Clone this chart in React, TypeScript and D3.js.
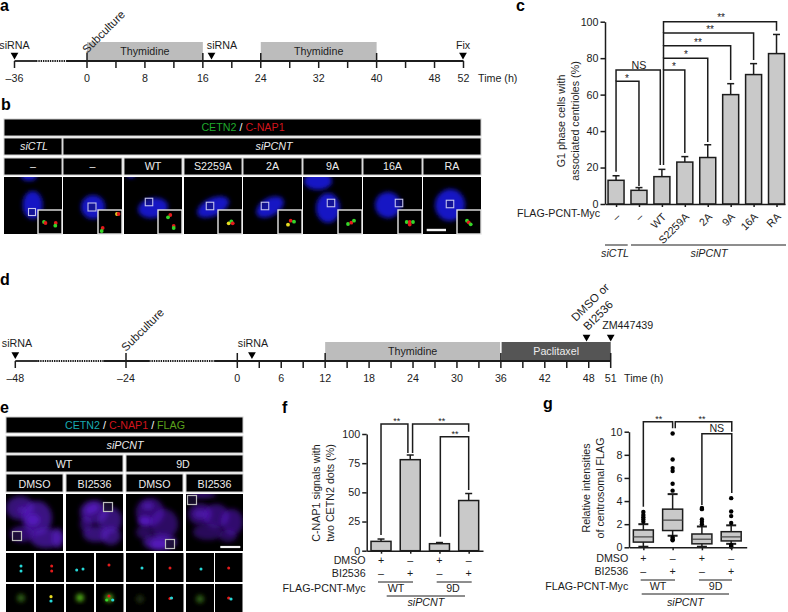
import { useEffect, useRef } from 'react';
import * as d3 from 'd3';

const FONT = '"Liberation Sans", Arial, sans-serif';
const FS = 10.7;
const INK = '#1c1c1c';
const GREY_BAR = '#c9c9c9';

// panel a timeline (hours)
const aTicks = [-36, 0, 4, 8, 12, 16, 20, 24, 28, 32, 36, 40, 44, 48, 52];
const aMajor = [0, 16, 24, 40];
const aLabels = [-36, 0, 8, 16, 24, 32, 40, 48, 52];
const aDotted = [[-25.3, -10.4]];
const aPeriods = [
  { name: 'Thymidine', from: 0, to: 16 },
  { name: 'Thymidine', from: 24, to: 40 },
];

// panel d timeline (hours)
const dTicks = [-48, -24, 0, 3, 6, 9, 12, 15, 18, 21, 24, 27, 30, 33, 36, 39, 42, 45, 48, 51];
const dMajor = [-24, 0, 12, 36, 51];
const dLabels = [-48, -24, 0, 6, 12, 18, 24, 30, 36, 42, 48, 51];
const dDotted = [[-43.1, -28.9], [-19, -5]];
const dPeriods = [
  { name: 'Thymidine', from: 12, to: 35.9 },
  { name: 'Paclitaxel', from: 36.1, to: 51 },
];

// panel c
const cCategories = ['–', '–', 'WT', 'S2259A', '2A', '9A', '16A', 'RA'];
const cValues = [13, 7.5, 15, 23, 25.5, 60, 71, 82.5];
const cErrTop = [15.5, 9, 19, 26, 32.5, 66, 77, 93];
const cTicks = [0, 20, 40, 60, 80, 100];
const cBrackets = [
  { x1: 0, x2: 1, level: 67.3, end1: 17.7, end2: 9.9, label: '*', labelX: 0.48, dy: 1 },
  { x1: 0, x2: 1.93, level: 73.5, end1: 67.3, end2: 21.4, label: 'NS', labelX: 1, dy: -1 },
  { x1: 2.07, x2: 3, level: 73.5, end1: 21.4, end2: 28, label: '*', labelX: 2.53, dy: 0 },
  { x1: 2.07, x2: 4, level: 80, end1: 73.5, end2: 34, label: '*', labelX: 3.05, dy: 0 },
  { x1: 2.07, x2: 5, level: 86.8, end1: 80, end2: 68, label: '**', labelX: 3.57, dy: 0 },
  { x1: 2.07, x2: 6, level: 93.8, end1: 86.8, end2: 79, label: '**', labelX: 4.1, dy: 0 },
  { x1: 2.07, x2: 7, level: 100, end1: 93.8, end2: 95, label: '**', labelX: 4.58, dy: -1 },
];

// panel f
const fValues = [8, 78, 6, 43];
const fErrTop = [10, 82, 7, 49];
const fTicks = [0, 25, 50, 75, 100];
const fBrackets = [
  { x1: 0, x2: 0.92, level: 108.6, end1: 13.5, end2: 83.7, label: '**', labelX: 0.54, dy: 0 },
  { x1: 1.08, x2: 3, level: 108.6, end1: 83.7, end2: 102, label: '**', labelX: 2.08, dy: 0 },
  { x1: 2.03, x2: 3, level: 97.7, end1: 12, end2: 52, label: '**', labelX: 2.53, dy: 0 },
];

// panel g
const gQ1 = [0.45, 1.45, 0.3, 0.55];
const gMedian = [0.9, 2.35, 0.7, 0.9];
const gQ3 = [1.5, 3.3, 1.15, 1.35];
const gWhiskerLow = [0.05, 1.0, 0.05, 0.3];
const gWhiskerHigh = [2.0, 4.6, 1.8, 1.9];
const gOutliers = [
  [2.2, 2.4, 2.6, 2.8, 3.05],
  [0.6, 0.7, 0.85, 4.9, 5.5, 6.6, 6.85, 7.6, 9.85],
  [2.0, 2.2, 2.4, 3.3, 3.4],
  [0.05, 0.12, 0.2, 2.1, 2.7, 3.1, 4.25],
];
const gTicks = [0, 2, 4, 6, 8, 10];
const gBrackets = [
  { x1: 0, x2: 1, level: 10.86, end1: 3.5, end2: 10.3, label: '**', labelX: 0.53, dy: 0 },
  { x1: 1.09, x2: 3.02, level: 10.86, end1: 10.3, end2: 10, label: '**', labelX: 2, dy: 0 },
  { x1: 2, x2: 3.02, level: 9.83, end1: 3.65, end2: 4.7, label: 'NS', labelX: 2.51, dy: -2 },
];

const dmsoSigns = ['+', '–', '+', '–'];
const biSigns = ['–', '+', '–', '+'];

// micrographs, sketched in each cell's own pixels
const bHeaders = ['–', '–', 'WT', 'S2259A', '2A', '9A', '16A', 'RA'];
const bColumns = [[4, 62], [63, 122], [124, 182], [184, 242], [243, 302], [303, 362], [363, 422], [423, 481]];
const bNuclei = [
  [[28.7, 28, 10, 14, 0], [25, -1, 8, 5, 0]],
  [[30, 30, 12, 12, 0]],
  [[29, 31, 15, 10, -10], [7, -3, 4, 4, 0]],
  [[29, 30, 17, 9, -25]],
  [[27, 30, 15, 9, -30]],
  [[25, 31, 12, 15, 0], [15, 4, 14, 9, 0]],
  [[25, 28, 13, 13, 20]],
  [[27, 28, 15, 16, 10]],
];
const bBoxes = [[28, 35, 7], [29, 30, 8], [25, 25, 7.5], [26, 29, 7.5], [22, 29, 7.5], [28, 26, 7.5], [36, 26, 7.5], [27, 27, 7.5]];
const bDots = [
  [[6, 12, 'g'], [7.5, 13, 'r'], [17.7, 13, 'r'], [17.3, 15.7, 'g']],
  [[19, 4, 'y'], [20.5, 4, 'r'], [4.7, 18, 'r'], [3.7, 21, 'g']],
  [[12.3, 5, 'r'], [10, 7.3, 'g'], [15.7, 16, 'r'], [15.7, 18, 'g']],
  [[10.7, 13.3, 'y'], [13.3, 11.3, 'g'], [14.7, 13.3, 'r']],
  [[12.7, 10.7, 'r'], [10, 14.7, 'y'], [16, 11.7, 'g']],
  [[10, 14, 'g'], [13.3, 12.7, 'r'], [16, 10.7, 'g']],
  [[8.7, 12, 'g'], [11.7, 12, 'r'], [15, 12, 'g'], [11.7, 14.5, 'r']],
  [[10, 10.7, 'g'], [11.7, 12.3, 'r'], [13.7, 14.3, 'g']],
];

const eColumns = [[6, 63], [66, 123], [126, 183], [186, 243]];
const eTreatments = ['DMSO', 'BI2536', 'DMSO', 'BI2536'];
const eNuclei = [
  [[14, 14, 14, 12, 0, 0.6], [31, 24, 15, 17, 0, 0.65], [40, 44, 16, 10, 0, 0.65], [16, 40, 12, 8, 0, 0.55], [52, 44, 6, 10, 0, 0.6], [27, 26, 7, 6, 0, 0.8], [16, 16, 5, 4, 0, 0.5]],
  [[28, 18, 14, 12, 0, 0.6], [44, 26, 12, 13, 0, 0.6], [30, 40, 13, 8, 0, 0.6], [45, 42, 10, 9, 0, 0.6], [26, 15, 8, 5, -25, 0.8], [20, 30, 6, 8, 0, 0.5]],
  [[24, 18, 14, 14, 0, 0.55], [38, 30, 14, 15, 0, 0.5], [18, 38, 8, 7, 0, 0.45], [34, 48, 17, 8, 0, 0.65], [19, 27, 7, 5, 0, 0.85], [22, 12, 6, 4, 0, 0.6], [33, 50, 9, 5, 0, 0.8]],
  [[14, 20, 12, 11, 0, 0.5], [30, 22, 13, 12, 0, 0.55], [46, 28, 11, 13, 0, 0.55], [22, 38, 15, 8, 0, 0.45], [42, 42, 9, 6, 0, 0.45], [16, 1, 14, 3, 0, 0.6], [14, 20, 7, 5, 0, 0.6]],
];
const eBoxes = [[11, 42, 9], [42, 13, 9], [44, 50, 9], [6, 6, 9]];
const eTopDots = [
  [[15, 13, 'c'], [15, 18, 'c']],
  [[15.7, 13, 'r'], [15.7, 18, 'r']],
  [[10.7, 17, 'c'], [17, 16, 'c']],
  [[13, 12, 'r']],
  [[16, 15, 'c']],
  [[14, 15, 'r']],
  [[15, 16, 'c']],
  [[13.7, 15, 'r']],
];
const eBottomDots = [
  [[15, 14, 'fd']],
  [[15, 12.7, 'y'], [15, 17, 'c']],
  [[14, 13.7, 'f']],
  [[13, 14, 'f'], [13, 12, 'r'], [10.7, 16, 'g'], [16.7, 16, 'c']],
  [[14, 15, 'fx']],
  [[14, 14.5, 'r'], [15.5, 14, 'c']],
  [[14, 15, 'fd']],
  [[13.7, 14, 'r'], [16, 15, 'c']],
];
const eSmallColumns = [6, 36, 66, 96, 126, 156, 186, 215];

const dotColor: Record<string, string> = {
  g: '#35d62a', r: '#e21a1a', y: '#e8dc24', c: '#28d8d8', f: '#4fa816', fd: '#2f5c12', fx: '#1c2c10',
};

const Label = ({ x, y, children, anchor = 'middle', fill = INK, size = FS, italic = false, rotate = 0 }: any) => (
  <text
    x={x}
    y={y}
    textAnchor={anchor}
    fill={fill}
    fontSize={size}
    fontFamily={FONT}
    fontStyle={italic ? 'italic' : 'normal'}
    transform={rotate ? `rotate(${rotate} ${x} ${y})` : undefined}
  >
    {children}
  </text>
);

const PanelLetter = ({ x, y, children }: any) => (
  <text x={x} y={y} fontSize={16} fontWeight="bold" fontFamily={FONT} fill="#000">{children}</text>
);

const formatHour = (h: number) => (h < 0 ? `–${-h}` : `${h}`);

const Marker = ({ x, y }: any) => (
  <path d={d3.symbol(d3.symbolTriangle, 26)() as string} transform={`translate(${x},${y}) rotate(180)`} fill="#000" />
);

const Timeline = ({ x, y, ticks, major, labels, dotted, periods, periodTop, periodFill, periodText }: any) => {
  const [start, end] = d3.extent(x.domain()) as number[];
  // solid stretches are what is left between the dotted ones
  const stops = [start, ...dotted.flat(), end];
  const solid = d3.range(0, stops.length, 2).map(i => [stops[i], stops[i + 1]]);
  return (
    <g>
      {periods.map((p: any, i: number) => (
        <g key={i}>
          <rect x={x(p.from)} y={periodTop} width={x(p.to) - x(p.from)} height={y - periodTop} fill={periodFill[i]} />
          <Label x={(x(p.from) + x(p.to)) / 2} y={y - 6} fill={periodText[i]}>{p.name}</Label>
        </g>
      ))}
      {solid.map(([a, b]: number[], i: number) => (
        <line key={i} x1={x(a)} x2={x(b)} y1={y} y2={y} stroke={INK} strokeWidth={1.8} />
      ))}
      {dotted.map(([a, b]: number[], i: number) => (
        <line key={i} x1={x(a)} x2={x(b)} y1={y} y2={y} stroke={INK} strokeWidth={1.8} strokeDasharray="1.4 0.9" />
      ))}
      {ticks.map((t: number) => (
        <line key={t} x1={x(t)} x2={x(t)} y1={major.includes(t) ? y - 8 : y} y2={y + 7} stroke={INK} strokeWidth={1.5} />
      ))}
      {labels.map((t: number) => (
        <Label key={t} x={x(t)} y={y + 21}>{formatHour(t)}</Label>
      ))}
    </g>
  );
};

const YAxis = ({ x, y, tickValues }: any) => {
  const ref = useRef<SVGGElement>(null);
  useEffect(() => {
    const g = d3.select(ref.current as SVGGElement);
    g.call(d3.axisLeft(y).tickValues(tickValues).tickSize(4.5).tickSizeOuter(0).tickPadding(2) as any);
    g.attr('font-family', FONT).attr('font-size', 10.7);
    g.selectAll('path,line').attr('stroke', INK).attr('stroke-width', 1.5);
    g.selectAll('text').attr('fill', INK);
  }, []);
  return <g ref={ref} transform={`translate(${x},0)`} />;
};

const XAxis = ({ x, y, count }: any) => {
  const ref = useRef<SVGGElement>(null);
  useEffect(() => {
    const g = d3.select(ref.current as SVGGElement);
    g.call(d3.axisBottom(x).tickValues(d3.range(count)).tickSize(3).tickSizeOuter(0).tickFormat(() => '') as any);
    g.selectAll('path,line').attr('stroke', INK).attr('stroke-width', 1.5);
  }, []);
  return <g ref={ref} transform={`translate(0,${y})`} />;
};

const Brackets = ({ x, y, items, size = 10 }: any) => (
  <g>
    {items.map((b: any, i: number) => (
      <g key={i}>
        <path
          d={`M${x(b.x1)},${y(b.end1)}V${y(b.level)}H${x(b.x2)}V${y(b.end2)}`}
          fill="none"
          stroke={INK}
          strokeWidth={1.5}
        />
        <Label x={x(b.labelX)} y={y(b.level) + b.dy} size={b.label === 'NS' ? FS : size}>{b.label}</Label>
      </g>
    ))}
  </g>
);

const Bars = ({ x, y, values, tops, width }: any) => (
  <g>
    {values.map((v: number, i: number) => (
      <g key={i}>
        <line x1={x(i)} x2={x(i)} y1={y(v)} y2={y(tops[i])} stroke={INK} strokeWidth={1.5} />
        <line x1={x(i) - 3.5} x2={x(i) + 3.5} y1={y(tops[i])} y2={y(tops[i])} stroke={INK} strokeWidth={1.5} />
        <rect x={x(i) - width / 2} y={y(v)} width={width} height={y(0) - y(v)} fill={GREY_BAR} stroke={INK} strokeWidth={1.5} />
      </g>
    ))}
  </g>
);

const Treatments = ({ x, rowY, right, flagY, lines, wtX, nineDX, siLine, siY }: any) => (
  <g>
    <Label x={right} y={rowY[0]} anchor="end">DMSO</Label>
    <Label x={right} y={rowY[1]} anchor="end">BI2536</Label>
    <Label x={right} y={flagY} anchor="end">FLAG-PCNT-Myc</Label>
    {dmsoSigns.map((s, i) => <Label key={i} x={x(i)} y={rowY[0]}>{s}</Label>)}
    {biSigns.map((s, i) => <Label key={i} x={x(i)} y={rowY[1]}>{s}</Label>)}
    {lines.map(([a, b]: number[], i: number) => (
      <line key={i} x1={a} x2={b} y1={rowY[1] + 5.5} y2={rowY[1] + 5.5} stroke={INK} strokeWidth={1} />
    ))}
    <Label x={wtX} y={flagY}>WT</Label>
    <Label x={nineDX} y={flagY}>9D</Label>
    <line x1={siLine[0]} x2={siLine[1]} y1={flagY + 4} y2={flagY + 4} stroke={INK} strokeWidth={1} />
    <Label x={(siLine[0] + siLine[1]) / 2} y={siY} italic>siPCNT</Label>
  </g>
);

const HeaderCell = ({ x0, x1, y0, y1 }: any) => (
  <rect x={x0} y={y0} width={x1 - x0} height={y1 - y0} fill="#000" stroke="#cfcfcf" strokeWidth={1} />
);

export default function App() {
  const xA = d3.scaleLinear().domain([-36, 0, 52]).range([14.5, 87, 463.5]);
  const xD = d3.scaleLinear().domain([-48, -24, 0, 51]).range([15.3, 126, 237.3, 610.7]);

  const yC = d3.scaleLinear().domain([0, 100]).range([204, 21.7]);
  const xC = d3.scaleLinear().domain([-0.482, 7.37]).range([605, 785]);
  const yF = d3.scaleLinear().domain([0, 100]).range([550.7, 434]);
  const xF = d3.scaleLinear().domain([-0.49, 3.49]).range([366.7, 483]);
  const yG = d3.scaleLinear().domain([0, 10]).range([547.3, 431.7]);
  const xG = d3.scaleLinear().domain([-0.49, 3.53]).range([629, 746.7]);

  return (
    <svg width={788} height={612} style={{ position: 'absolute', left: 0, top: 0, background: '#fff' }}>
      <defs>
        <filter id="soft" x="-40%" y="-40%" width="180%" height="180%"><feGaussianBlur stdDeviation="2.2" /></filter>
        <filter id="softer" x="-40%" y="-40%" width="180%" height="180%"><feGaussianBlur stdDeviation="2.4" /></filter>
        <filter id="dot" x="-60%" y="-60%" width="220%" height="220%"><feGaussianBlur stdDeviation="0.5" /></filter>
      </defs>

      {/* a */}
      <PanelLetter x={0} y={11}>a</PanelLetter>
      <Timeline
        x={xA} y={61} ticks={aTicks} major={aMajor} labels={aLabels} dotted={aDotted} periods={aPeriods}
        periodTop={42} periodFill={['#bcbcbc', '#bcbcbc']} periodText={[INK, INK]}
      />
      <Label x={14.5} y={49}>siRNA</Label>
      <Marker x={14.5} y={55} />
      <Label x={222} y={49}>siRNA</Label>
      <Marker x={211.5} y={55} />
      <Label x={463} y={49}>Fix</Label>
      <Marker x={463} y={55} />
      <Label x={87} y={54} anchor="start" rotate={-45} size={11.5}>Subculture</Label>
      <Label x={478} y={82} anchor="start">Time (h)</Label>

      {/* b */}
      <PanelLetter x={1} y={110}>b</PanelLetter>
      <HeaderCell x0={4} x1={481} y0={119} y1={136} />
      <text x={243} y={131} textAnchor="middle" fontSize={FS} fontFamily={FONT} fill="#fff">
        <tspan fill="#1fa82c">CETN2</tspan> / <tspan fill="#d0141c">C-NAP1</tspan>
      </text>
      <HeaderCell x0={4} x1={62} y0={138} y1={155} />
      <HeaderCell x0={63} x1={481} y0={138} y1={155} />
      <Label x={34} y={150} italic fill="#ececec">siCTL</Label>
      <Label x={274} y={150} italic fill="#ececec">siPCNT</Label>
      {bColumns.map(([x0, x1], i) => (
        <g key={i}>
          <HeaderCell x0={x0} x1={x1} y0={158} y1={175} />
          <Label x={(x0 + x1) / 2} y={170} fill="#ececec">{bHeaders[i]}</Label>
          <rect x={x0} y={177} width={x1 - x0} height={57} fill="#000" />
          <svg x={x0} y={177} width={x1 - x0} height={57}>
            {bNuclei[i].map(([cx, cy, rx, ry, rot], k) => (
              <ellipse
                key={k} cx={cx} cy={cy} rx={rx} ry={ry} fill="#1717c4" filter="url(#soft)"
                transform={`rotate(${rot} ${cx} ${cy})`}
              />
            ))}
            <rect
              x={bBoxes[i][0] - bBoxes[i][2] / 2} y={bBoxes[i][1] - bBoxes[i][2] / 2}
              width={bBoxes[i][2]} height={bBoxes[i][2]} fill="#10106a" fillOpacity={0.5} stroke="#c4c4ee" strokeWidth={1.1}
            />
          </svg>
          <g transform={`translate(${x1 - 24},210)`}>
            <rect x={0} y={0} width={24} height={24} fill="#000" stroke="#e6e6e6" strokeWidth={1.4} />
            {bDots[i].map(([dx, dy, c]: any, k) => (
              <circle key={k} cx={dx} cy={dy} r={1.9} fill={dotColor[c]} filter="url(#dot)" />
            ))}
          </g>
        </g>
      ))}
      <line x1={426.7} x2={446} y1={230} y2={230} stroke="#f4f4f4" strokeWidth={2.4} />

      {/* c */}
      <PanelLetter x={516} y={11}>c</PanelLetter>
      <Brackets x={xC} y={yC} items={cBrackets} />
      <Bars x={xC} y={yC} values={cValues} tops={cErrTop} width={16} />
      <YAxis x={605} y={yC} tickValues={cTicks} />
      <XAxis x={xC} y={204} count={cCategories.length} />
      <Label x={565} y={121} rotate={-90}>G1 phase cells with</Label>
      <Label x={578.5} y={121} rotate={-90}>associated centrioles (%)</Label>
      <Label x={600} y={217} anchor="end">FLAG-PCNT-Myc</Label>
      {cCategories.map((c, i) => (
        <Label key={i} x={xC(i) + 5} y={217.5} anchor="end" rotate={-45}>{c}</Label>
      ))}
      <line x1={605} x2={627.7} y1={245} y2={245} stroke={INK} strokeWidth={1} />
      <line x1={631} x2={786} y1={245} y2={245} stroke={INK} strokeWidth={1} />
      <Label x={615} y={257} italic>siCTL</Label>
      <Label x={709} y={257} italic>siPCNT</Label>

      {/* d */}
      <PanelLetter x={0} y={285}>d</PanelLetter>
      <Timeline
        x={xD} y={361} ticks={dTicks} major={dMajor} labels={dLabels} dotted={dDotted} periods={dPeriods}
        periodTop={342} periodFill={['#bcbcbc', '#555555']} periodText={[INK, '#ededed']}
      />
      <Label x={17} y={347}>siRNA</Label>
      <Marker x={15.3} y={354.5} />
      <Label x={253} y={347}>siRNA</Label>
      <Marker x={xD(2)} y={354.5} />
      <Label x={126} y={352} anchor="start" rotate={-45} size={11.5}>Subculture</Label>
      <Marker x={xD(47.7)} y={337} />
      <Marker x={xD(51)} y={337} />
      <Label x={576} y={322} anchor="start" rotate={-45} size={11.5}>DMSO or</Label>
      <Label x={588} y={331} anchor="start" rotate={-45} size={11.5}>BI2536</Label>
      <Label x={627.7} y={329}>ZM447439</Label>
      <Label x={624} y={382} anchor="start">Time (h)</Label>

      {/* e */}
      <PanelLetter x={0} y={413}>e</PanelLetter>
      <HeaderCell x0={6} x1={243} y0={417} y1={433} />
      <text x={125} y={429} textAnchor="middle" fontSize={FS} fontFamily={FONT} fill="#fff">
        <tspan fill="#18a8b0">CETN2</tspan> / <tspan fill="#d0141c">C-NAP1</tspan> / <tspan fill="#5aa01c">FLAG</tspan>
      </text>
      <HeaderCell x0={6} x1={243} y0={436} y1={453} />
      <Label x={125} y={449} italic fill="#ececec">siPCNT</Label>
      <HeaderCell x0={6} x1={123} y0={455} y1={472} />
      <HeaderCell x0={126} x1={243} y0={455} y1={472} />
      <Label x={64} y={468} fill="#ececec">WT</Label>
      <Label x={183} y={468} fill="#ececec">9D</Label>
      {eColumns.map(([x0, x1], i) => (
        <g key={i}>
          <HeaderCell x0={x0} x1={x1} y0={474} y1={492} />
          <Label x={(x0 + x1) / 2} y={487.5} fill="#ececec">{eTreatments[i]}</Label>
          <rect x={x0} y={494} width={x1 - x0} height={57} fill="#000" />
          <svg x={x0} y={494} width={x1 - x0} height={57}>
            {eNuclei[i].map(([cx, cy, rx, ry, rot, o], k) => (
              <ellipse
                key={k} cx={cx} cy={cy} rx={rx} ry={ry} fill="#5a1ac8" fillOpacity={o} filter="url(#softer)"
                transform={`rotate(${rot} ${cx} ${cy})`}
              />
            ))}
            <rect
              x={eBoxes[i][0] - eBoxes[i][2] / 2} y={eBoxes[i][1] - eBoxes[i][2] / 2}
              width={eBoxes[i][2]} height={eBoxes[i][2]} fill="#1a1030" fillOpacity={0.8} stroke="#bdbdbd" strokeWidth={1.2}
            />
          </svg>
        </g>
      ))}
      <line x1={220.3} x2={240.3} y1={547} y2={547} stroke="#f4f4f4" strokeWidth={2.2} />
      {eSmallColumns.map((x0, i) => {
        const w = i === 7 || i === 5 || i === 3 ? 27.5 : 28;
        return (
          <g key={i}>
            <rect x={x0} y={553} width={w} height={29} fill="#000" />
            {eTopDots[i].map(([dx, dy, c]: any, k) => (
              <circle key={k} cx={x0 + dx} cy={553 + dy} r={1.5} fill={dotColor[c]} filter="url(#dot)" />
            ))}
            <rect x={x0} y={584} width={w} height={28} fill="#000" />
            {eBottomDots[i].map(([dx, dy, c]: any, k) => (
              <circle
                key={k} cx={x0 + dx} cy={584 + dy} r={c[0] === 'f' ? 4 : 1.6} fill={dotColor[c]}
                filter={c[0] === 'f' ? 'url(#soft)' : 'url(#dot)'}
              />
            ))}
          </g>
        );
      })}

      {/* f */}
      <PanelLetter x={282} y={413}>f</PanelLetter>
      <Brackets x={xF} y={yF} items={fBrackets} size={9} />
      <Bars x={xF} y={yF} values={fValues} tops={fErrTop} width={20} />
      <YAxis x={366.7} y={yF} tickValues={fTicks} />
      <XAxis x={xF} y={550.7} count={4} />
      <Label x={320} y={493} rotate={-90}>C-NAP1 signals with</Label>
      <Label x={334} y={493} rotate={-90}>two CETN2 dots (%)</Label>
      <Treatments
        x={xF} rowY={[563.5, 576.5]} right={365.7} flagY={592} lines={[[378, 413], [436.7, 471.7]]}
        wtX={396} nineDX={453} siLine={[386.7, 465]} siY={606}
      />

      {/* g */}
      <PanelLetter x={543} y={409}>g</PanelLetter>
      <Brackets x={xG} y={yG} items={gBrackets} size={9} />
      {gMedian.map((m, i) => (
        <g key={i}>
          <line x1={xG(i)} x2={xG(i)} y1={yG(gWhiskerLow[i])} y2={yG(gWhiskerHigh[i])} stroke={INK} strokeWidth={1.5} />
          <line x1={xG(i) - 5} x2={xG(i) + 5} y1={yG(gWhiskerLow[i])} y2={yG(gWhiskerLow[i])} stroke={INK} strokeWidth={2} />
          <line x1={xG(i) - 5} x2={xG(i) + 5} y1={yG(gWhiskerHigh[i])} y2={yG(gWhiskerHigh[i])} stroke={INK} strokeWidth={2} />
          <rect
            x={xG(i) - 10} y={yG(gQ3[i])} width={20} height={yG(gQ1[i]) - yG(gQ3[i])}
            fill={GREY_BAR} stroke={INK} strokeWidth={1.5}
          />
          <line x1={xG(i) - 10} x2={xG(i) + 10} y1={yG(m)} y2={yG(m)} stroke="#444" strokeWidth={1.2} />
          {gOutliers[i].map((o, k) => (
            <circle key={k} cx={xG(i)} cy={yG(o)} r={2.2} fill="#000" />
          ))}
        </g>
      ))}
      <YAxis x={629} y={yG} tickValues={gTicks} />
      <XAxis x={xG} y={547.3} count={4} />
      <Label x={590} y={488} rotate={-90}>Relative intensities</Label>
      <Label x={604} y={488} rotate={-90}>of centrosomal FLAG</Label>
      <Treatments
        x={xG} rowY={[561.5, 574.5]} right={628.3} flagY={590} lines={[[640.7, 675], [699, 732]]}
        wtX={658} nineDX={715.7} siLine={[641.7, 729]} siY={606}
      />
    </svg>
  );
}
